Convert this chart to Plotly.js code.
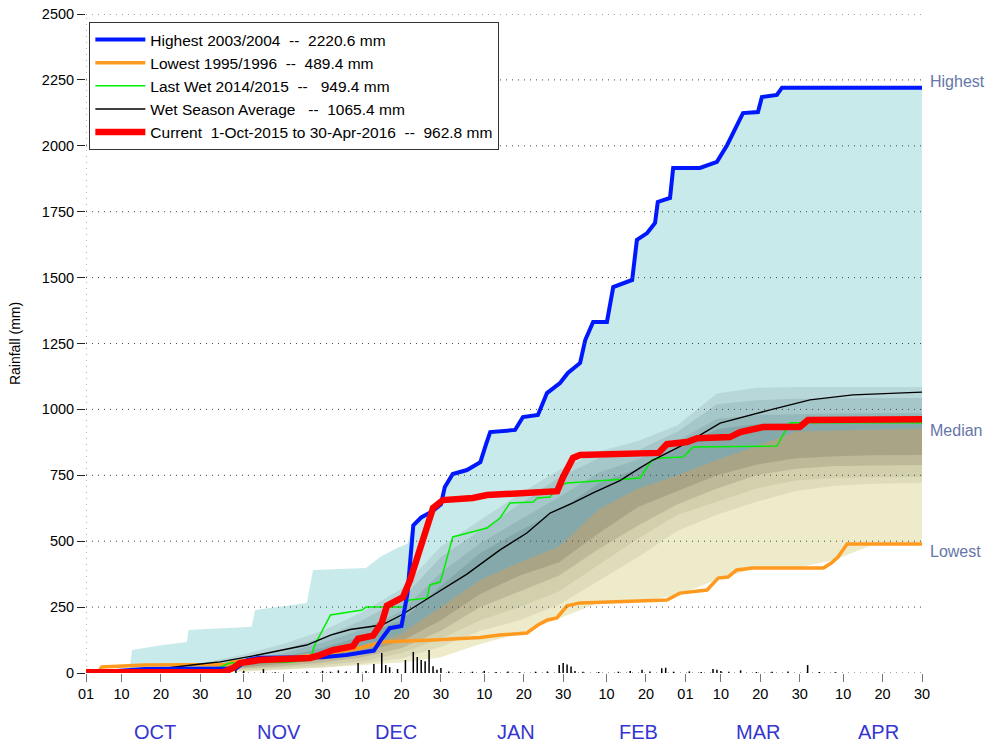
<!DOCTYPE html>
<html>
<head>
<meta charset="utf-8">
<script src="https://cdn.plot.ly/plotly-3.0.1.min.js"></script>
<style>
  html, body { margin: 0; padding: 0; background: #fff; }
  #chart { width: 991px; height: 747px; }
</style>
</head>
<body>
<div id="chart"></div>
<script>
// x values are days since 1 Oct 2015 (0 .. 212 = 30 Apr 2016)

// axis labels
var tickDays = [0, 9, 19, 29, 40, 50, 60, 70, 80, 90, 101, 111, 121, 132, 142, 152, 161, 171, 181, 192, 202, 212];
var tickText = ['01', '10', '20', '30', '10', '20', '30', '10', '20', '30', '10', '20', '30', '10', '20', '01', '10', '20', '30', '10', '20', '30'];
var monthNames = ['OCT', 'NOV', 'DEC', 'JAN', 'FEB', 'MAR', 'APR'];
var monthDays = [17.5, 49, 78.6, 109, 140, 170.4, 201];
var yTicks = [0, 250, 500, 750, 1000, 1250, 1500, 1750, 2000, 2250, 2500];

// percentile envelope of all past seasons
var maxDays = [0, 3, 11, 11.7, 19.5, 25.6, 26, 42, 42.9, 48.4, 56, 57.6, 71, 74.6, 78.9, 81.5, 83, 85, 88, 90, 91, 93, 96.6, 100, 101.5, 102.5, 108.8, 110.8, 114.6, 116.9, 120.2, 122.2, 125.3, 126.6, 128.6, 132.1, 133.7, 138.5, 139.7, 142.3, 144.3, 145, 148.1, 148.9, 155.7, 160, 162.6, 166.6, 170.4, 171.4, 175.2, 176.5, 212];
var maxVals = [0, 5, 10, 87, 106, 118, 163, 175, 239, 250, 266, 391, 398, 440, 474, 490, 570, 595, 620, 645, 706, 760, 775, 805, 870, 918, 925, 975, 985, 1065, 1105, 1142, 1180, 1265, 1335, 1338, 1468, 1495, 1648, 1672, 1710, 1790, 1805, 1920, 1920, 1942, 2006, 2126, 2130, 2188, 2196, 2224, 2224];

var pctDays = [0, 10, 20, 30, 40, 50, 60, 70, 80, 90, 100, 110, 120, 130, 140, 150, 160, 170, 180, 190, 200, 212];
var p90 = [0, 8, 22, 40, 70, 110, 160, 230, 320, 480, 580, 680, 770, 840, 880, 940, 1060, 1082, 1085, 1085, 1085, 1085];
var p80 = [0, 7, 18, 32, 58, 90, 135, 200, 280, 440, 542, 640, 743, 815, 845, 915, 1020, 1035, 1040, 1042, 1043, 1043];
var p70 = [0, 6, 15, 28, 50, 75, 115, 165, 235, 380, 493, 580, 668, 760, 810, 880, 965, 978, 982, 984, 985, 985];
var p60 = [0, 5, 12, 22, 40, 62, 95, 140, 200, 330, 455, 540, 618, 720, 775, 850, 925, 945, 950, 952, 954, 955];
var p50 = [0, 3, 8, 15, 28, 45, 65, 95, 150, 250, 353, 420, 480, 620, 700, 750, 808, 860, 915, 920, 924, 927];
var p40 = [0, 2, 6, 12, 22, 35, 52, 78, 120, 200, 300, 370, 420, 530, 630, 690, 750, 790, 815, 822, 826, 827];
var p30 = [0, 1, 4, 9, 17, 27, 40, 60, 95, 160, 250, 310, 370, 470, 560, 640, 700, 750, 775, 785, 788, 789];
var p20 = [0, 1, 3, 6, 12, 20, 30, 45, 75, 130, 200, 250, 310, 410, 510, 600, 650, 700, 730, 740, 743, 744];
var p10 = [0, 0, 2, 4, 8, 14, 22, 35, 55, 100, 160, 200, 260, 350, 440, 540, 600, 650, 690, 710, 718, 721];
var p0 = [0, 0, 0, 0, 5, 12, 20, 30, 40, 60, 110, 150, 209, 266, 272, 295, 355, 398, 398, 430, 489, 489];

// highest season 2003/2004
var highDays = [0, 4, 15, 38, 41, 44, 60, 66, 73, 75, 77, 80, 81.5, 83, 85, 88, 90, 91, 93, 96.6, 100, 101.5, 102.5, 108.8, 110.8, 114.6, 116.9, 120.2, 122.2, 125.3, 126.6, 128.6, 132.1, 133.7, 138.5, 139.7, 142.3, 144.3, 145, 148.1, 148.9, 155.7, 160, 162.6, 166.6, 170.4, 171.4, 175.2, 176.5, 212];
var highVals = [0, 3, 15, 17, 50, 58, 60, 68, 85, 130, 170, 178, 300, 560, 590, 615, 640, 706, 755, 770, 800, 870, 914, 922, 971, 979, 1062, 1100, 1138, 1176, 1263, 1332, 1332, 1464, 1491, 1643, 1669, 1707, 1787, 1802, 1916, 1916, 1939, 2003, 2124, 2128, 2185, 2193, 2220.6, 2220.6];

// lowest season 1995/1996
var lowDays = [0, 3, 4, 15, 36, 37, 45, 58.6, 69.5, 75, 88, 100, 105, 111.8, 114.6, 117, 119.4, 122, 125.3, 147.3, 150.6, 157.5, 160.3, 162.8, 165, 169, 187, 189, 190.7, 193, 212];
var lowVals = [0, 0, 23, 30, 32, 42, 48, 68, 95, 118, 125, 135, 144, 152, 182, 201, 209, 255, 266, 277, 303, 315, 360, 364, 391, 398, 398, 417, 440, 489.4, 489.4];

// last wet season 2014/2015
var lastDays = [0, 33, 34, 36.5, 51.7, 56.8, 58, 62, 70, 71, 80.4, 82, 86.5, 87.2, 89.8, 90.5, 93, 96.6, 101.7, 105, 107.5, 113.4, 114.4, 117.7, 119.5, 122, 140.5, 143.5, 145.6, 151.4, 154, 175.2, 178.5, 212];
var lastVals = [0, 0, 23, 38, 42, 49, 106, 220, 239, 250, 250, 277, 284, 334, 345, 379, 516, 531, 550, 588, 645, 649, 664, 668, 706, 721, 740, 808, 816, 819, 857, 861, 949.4, 949.4];

// wet season average
var avgDays = [0, 10, 20, 29, 34, 42.4, 46, 51, 56, 62, 67, 75, 80, 88, 96.6, 105, 111.8, 117.7, 123.5, 128.6, 135.4, 140.5, 143.8, 152.4, 160.8, 173.5, 183.6, 194.5, 212];
var avgVals = [0, 8, 18, 34, 42, 65, 76, 92, 106, 144, 165, 182, 220, 295, 375, 467, 531, 607, 645, 683, 730, 778, 808, 873, 948, 998, 1036, 1055, 1065.4];

// current season 2015/2016
var curDays = [0, 34.7, 37.3, 39, 44, 56.8, 59.3, 62.6, 67.7, 69, 72.8, 75, 76.3, 78.9, 80.4, 82.2, 83.9, 86.5, 88, 90.5, 98.1, 101.7, 109.3, 119.5, 121, 123.5, 125.3, 145.2, 147.3, 152.4, 155, 163.3, 165.9, 171.7, 181, 183.1, 212];
var curVals = [3, 3, 19, 38, 49, 57, 68, 87, 102, 130, 142, 190, 255, 280, 288, 353, 429, 542, 626, 656, 664, 675, 683, 690, 744, 816, 827, 835, 868, 876, 891, 895, 914, 933, 933, 960, 962.8];

// daily rainfall bars of the current season
var rainDays = [5, 9, 14, 22, 33, 38, 40, 45, 48, 52, 56, 60, 62, 64, 66, 69, 71, 73, 75, 76, 77, 79, 81, 83, 84, 85, 86, 87, 88, 89, 90, 92, 95, 98, 101, 104, 107, 110, 114, 117, 120, 121, 122, 123, 124, 126, 130, 135, 138, 141, 143, 146, 147, 149, 153, 156, 159, 160, 161, 163, 166, 170, 174, 178, 183, 186, 190];
var rainMm = [2, 3, 2, 2, 3, 12, 8, 15, 3, 4, 6, 8, 5, 10, 6, 38, 8, 34, 76, 30, 22, 15, 49, 80, 61, 49, 45, 87, 26, 12, 19, 6, 4, 5, 8, 4, 6, 3, 5, 6, 30, 38, 32, 25, 8, 5, 4, 5, 8, 12, 6, 18, 20, 5, 6, 4, 15, 12, 8, 5, 10, 4, 5, 6, 30, 4, 3];

var bandColors = ['#C8EAEA', '#B8D7D9', '#A6C7C9', '#95B8BA', '#85A9AB', '#A9A485', '#BDB999', '#D2CFAD', '#DFDCBB', '#EDEBCA', '#FFFFFF'];
var bandCurves = [[maxDays, maxVals], [pctDays, p90], [pctDays, p80], [pctDays, p70], [pctDays, p60],
                  [pctDays, p50], [pctDays, p40], [pctDays, p30], [pctDays, p20], [pctDays, p10], [pctDays, p0]];

var traces = [];
bandCurves.forEach(function (c, i) {
    traces.push({
        x: c[0], y: c[1], type: 'scatter', mode: 'lines',
        line: {width: 0, color: bandColors[i]},
        fill: 'tozeroy', fillcolor: bandColors[i],
        showlegend: false, hoverinfo: 'skip'
    });
});

// thin vertical bars drawn as line segments so they sit above the bands
var barX = [], barY = [];
for (var i = 0; i < rainDays.length; i++) {
    barX.push(rainDays[i], rainDays[i], null);
    barY.push(0, rainMm[i], null);
}
traces.push({
    x: barX, y: barY, type: 'scatter', mode: 'lines',
    line: {color: '#000', width: 1.5}, showlegend: false, hoverinfo: 'skip'
});

var nb = '\u00a0';
traces.push({x: lowDays, y: lowVals, type: 'scatter', mode: 'lines', legendrank: 2,
    name: 'Lowest 1995/1996' + nb + nb + '--' + nb + nb + '489.4 mm', line: {color: '#FF9A1E', width: 3.5}});
traces.push({x: lastDays, y: lastVals, type: 'scatter', mode: 'lines', legendrank: 3,
    name: 'Last Wet 2014/2015' + nb + nb + '--' + nb + nb + nb + '949.4 mm', line: {color: '#00EE00', width: 1.5}});
traces.push({x: avgDays, y: avgVals, type: 'scatter', mode: 'lines', legendrank: 4,
    name: 'Wet Season Average' + nb + nb + nb + '--' + nb + nb + '1065.4 mm', line: {color: '#000000', width: 1.4}});
traces.push({x: highDays, y: highVals, type: 'scatter', mode: 'lines', legendrank: 1,
    name: 'Highest 2003/2004' + nb + nb + '--' + nb + nb + '2220.6 mm', line: {color: '#0018FF', width: 4}});
traces.push({x: curDays, y: curVals, type: 'scatter', mode: 'lines', legendrank: 5,
    name: 'Current' + nb + nb + '1-Oct-2015 to 30-Apr-2016' + nb + nb + '--' + nb + nb + '962.8 mm', line: {color: '#FF0000', width: 6.5}});

var shapes = yTicks.map(function (v) {
    return {type: 'line', xref: 'paper', x0: 0, x1: 1, yref: 'y', y0: v, y1: v,
        line: {color: '#444', width: 1, dash: '1px,5px'}, layer: 'above'};
});
shapes.push({type: 'line', xref: 'x', x0: 0, x1: 0, yref: 'paper', y0: 0, y1: 1,
    line: {color: '#666', width: 1, dash: '1px,5px'}, layer: 'above'});

var annotations = monthNames.map(function (m, i) {
    return {text: m, x: monthDays[i], xref: 'x', y: -0.0895, yref: 'paper',
        xanchor: 'center', yanchor: 'middle', showarrow: false,
        font: {size: 20, color: '#3535CF'}};
});
var sideLabels = [['Highest', 2220.6, 6], ['Median', 927, -2], ['Lowest', 489.4, -8]];
sideLabels.forEach(function (s) {
    annotations.push({text: s[0], x: 1, xref: 'paper', xanchor: 'left', xshift: 6,
        y: s[1], yref: 'y', yanchor: 'middle', yshift: s[2], showarrow: false,
        font: {size: 16, color: '#6676A8'}});
});

var layout = {
    width: 991, height: 747,
    margin: {l: 86, r: 69, t: 14, b: 74},
    paper_bgcolor: '#fff', plot_bgcolor: '#fff',
    font: {family: 'Liberation Sans, Arial, sans-serif', color: '#000', size: 14},
    showlegend: true,
    legend: {x: 0.004, y: 0.988, xanchor: 'left', yanchor: 'top',
        bgcolor: '#fff', bordercolor: '#333', borderwidth: 1,
        font: {size: 15.5}, itemwidth: 50, tracegroupgap: 0},
    xaxis: {range: [0, 212], tickvals: tickDays, ticktext: tickText,
        ticks: 'outside', ticklen: 8, tickcolor: '#777', tickfont: {size: 14.5},
        showgrid: false, zeroline: false, showline: false},
    yaxis: {range: [0, 2500], tickvals: yTicks, ticks: 'outside', ticklen: 8, tickcolor: '#222',
        tickfont: {size: 14.5}, showgrid: false, zeroline: false, showline: false,
        title: {text: 'Rainfall (mm)', font: {size: 14}, standoff: 17}},
    shapes: shapes,
    annotations: annotations
};

Plotly.newPlot('chart', traces, layout, {displayModeBar: false, staticPlot: true});
</script>
</body>
</html>
